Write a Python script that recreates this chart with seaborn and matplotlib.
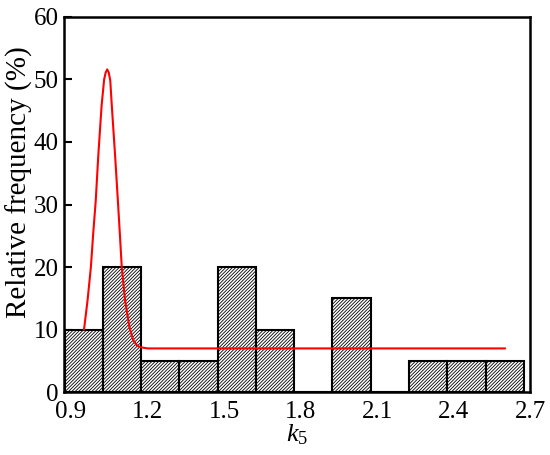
import matplotlib
matplotlib.use("Agg")
import matplotlib.pyplot as plt
import seaborn as sns
import numpy as np
import pandas as pd

# ---- data ----
bin_edges = [0.875, 1.025, 1.175, 1.325, 1.475, 1.625, 1.775, 1.925,
             2.075, 2.225, 2.375, 2.525, 2.675]
rel_freq = [10, 20, 5, 5, 20, 10, 0, 15, 0, 5, 5, 5]

curve_x = [0.951, 0.965, 0.978, 0.987, 0.997, 1.007, 1.020, 1.030, 1.036,
           1.042, 1.048, 1.054, 1.060, 1.073, 1.085, 1.092, 1.099, 1.112,
           1.129, 1.144, 1.158, 1.171, 1.200, 1.300, 2.602]
curve_y = [10.0, 14.7, 20.0, 25.3, 30.6, 37.8, 45.8, 50.0, 51.1,
           51.6, 51.1, 49.8, 45.8, 37.8, 29.8, 25.0, 20.0, 14.7,
           10.4, 8.3, 7.5, 7.2, 7.0, 7.0, 7.0]

x_ticks = [0.9, 1.2, 1.5, 1.8, 2.1, 2.4, 2.7]
y_ticks = [0, 10, 20, 30, 40, 50, 60]

sns.set_style("ticks")
plt.rcParams["font.family"] = ["Liberation Serif", "DejaVu Serif"]
plt.rcParams["mathtext.fontset"] = "custom"
plt.rcParams["mathtext.rm"] = "Liberation Serif"
plt.rcParams["mathtext.it"] = "Liberation Serif:italic"
plt.rcParams["hatch.linewidth"] = 0.6
plt.rcParams["hatch.color"] = "#222222"
plt.rcParams["text.color"] = "black"
plt.rcParams["axes.labelcolor"] = "black"
plt.rcParams["xtick.color"] = "black"
plt.rcParams["ytick.color"] = "black"

centers = [(bin_edges[i] + bin_edges[i + 1]) / 2 for i in range(len(rel_freq))]
df = pd.DataFrame({"k5": centers, "freq": rel_freq})

fig = plt.figure(figsize=(5.5, 4.55), dpi=100)
ax = fig.add_axes([0.117, 0.138, 0.847, 0.825])

sns.histplot(data=df, x="k5", weights="freq", bins=bin_edges, stat="count",
             ax=ax, color="white", edgecolor="black", linewidth=1.5, alpha=1)
for p in ax.patches:
    p.set_hatch("//////////")
    p.set_facecolor("white")
    p.set_edgecolor("black")

sns.lineplot(x=curve_x, y=curve_y, ax=ax, color="red", linewidth=1.5,
             sort=False, estimator=None)

ax.set_xlim(0.874, 2.7)
ax.set_ylim(0, 60)
ax.set_xticks(x_ticks)
ax.set_xticklabels([f"{v:.1f}" for v in x_ticks])
ax.set_yticks(y_ticks)
ax.tick_params(axis="y", direction="in", length=6, width=1.5, labelsize=18, pad=4)
ax.tick_params(axis="x", direction="in", length=0, labelsize=18, pad=6)
for s in ax.spines.values():
    s.set_linewidth(1.8)
    s.set_color("black")
    s.set_visible(True)
ax.set_xlabel("$k_5$", fontsize=19, labelpad=0)
ax.set_ylabel("Relative frequency (%)", fontsize=21)
ax.yaxis.set_label_coords(-0.068, 0.56)

fig.savefig("out.png", dpi=100)
